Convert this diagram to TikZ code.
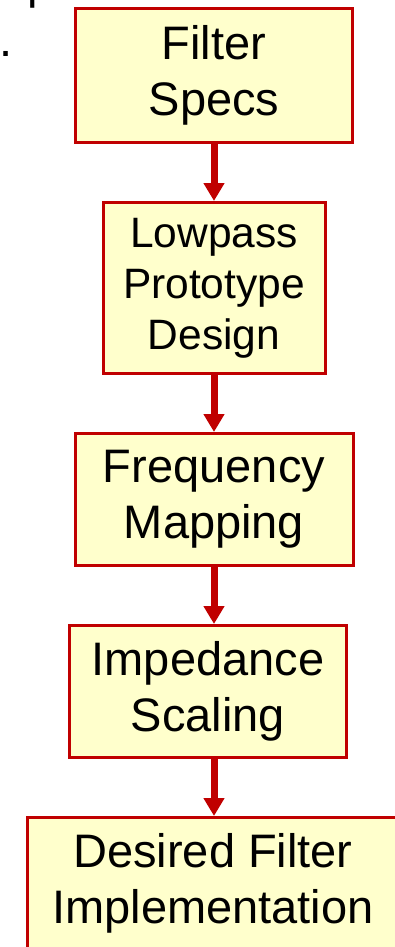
\documentclass[tikz,border=0pt]{standalone}
\usepackage{fontspec}
\setmainfont{Liberation Sans}
\usetikzlibrary{positioning, arrows.meta}

\definecolor{boxred}{HTML}{C00000}
\definecolor{boxfill}{HTML}{FFFFCC}

\begin{document}
\begin{tikzpicture}[node distance=57pt,
    every node/.style={font=\fontsize{47pt}{56pt}\selectfont},
    box/.style={rectangle, draw=boxred, line width=3pt, fill=boxfill, align=center, inner sep=0pt},
    arrow/.style={-{Triangle[width=20pt, length=18pt]}, line width=7pt, draw=boxred}]

  \useasboundingbox (0,0) rectangle (395pt,-947pt);

  % pieces of the slide text cut off at the top left
  \node[anchor=base west, inner sep=0pt] (frag) at (1pt,1pt) {ep};
  \node[anchor=base west, inner sep=0pt] (dot) at (-1pt,-57pt) {.};

  \node[box, minimum width=277pt, minimum height=134pt] (specs) at (214pt,-75.5pt) {Filter\\Specs};
  \node[box, below=of specs, minimum width=222pt, minimum height=171pt,
        font=\fontsize{42.5pt}{51pt}\selectfont] (proto) {Lowpass\\Prototype\\Design};
  \node[box, below=of proto, minimum width=278pt, minimum height=132pt] (freq) {Frequency\\Mapping};
  \node[box, below=of freq, xshift=-6pt, minimum width=277pt, minimum height=132pt] (imp) {Impedance\\Scaling};
  \node[box, below=of imp, xshift=5pt, minimum width=371pt, minimum height=132pt] (impl) {Desired Filter\\Implementation};

  \draw[arrow] (specs) -- (proto);
  \draw[arrow] (proto) -- (freq);
  \draw[arrow] (freq.south) -- (freq.south |- imp.north);
  \draw[arrow] (imp.south -| freq.south) -- (freq.south |- impl.north);
\end{tikzpicture}
\end{document}
